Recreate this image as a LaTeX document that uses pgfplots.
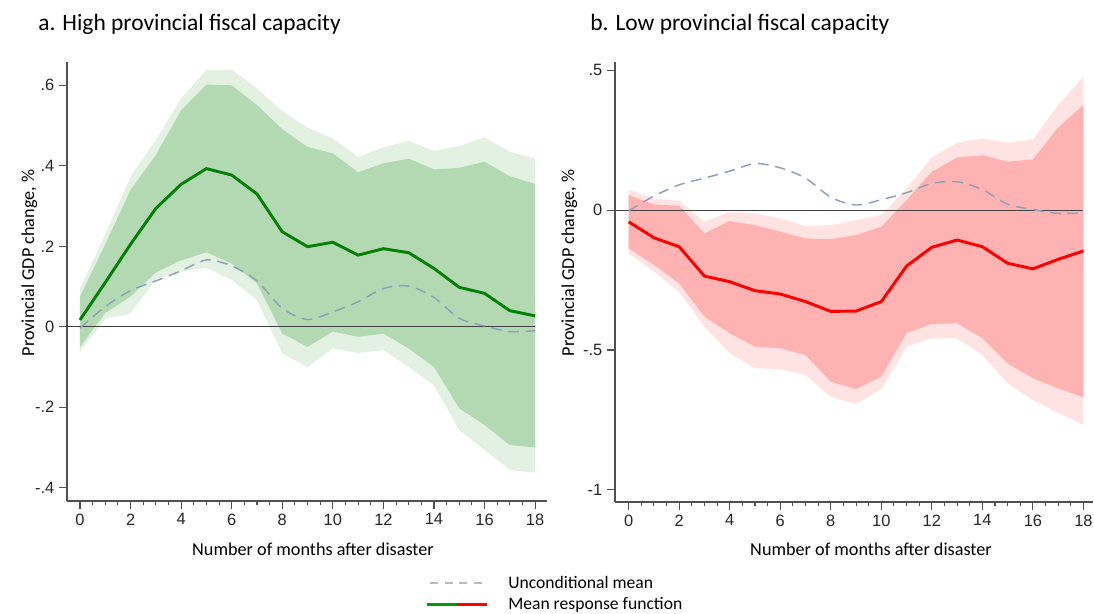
\documentclass[border=0pt]{standalone}
\usepackage{pgfplots}
\pgfplotsset{compat=1.18}
\usepackage{pgfplotstable}
\usepgfplotslibrary{fillbetween}
\usepackage{fontspec}
\setmainfont{Carlito}
\newfontfamily\tickfont{Liberation Sans}

\definecolor{gdark}{RGB}{179,217,179}
\definecolor{glight}{RGB}{227,241,227}
\definecolor{gline}{RGB}{0,128,0}
\definecolor{rdark}{RGB}{255,178,178}
\definecolor{rlight}{RGB}{255,227,227}
\definecolor{rline}{RGB}{255,0,0}
\definecolor{unc}{RGB}{140,160,185}
\definecolor{axcol}{RGB}{80,80,80}
\definecolor{leggray}{RGB}{185,185,185}

% High fiscal capacity
\pgfplotstableread{
m  mean   unc    dhi    dlo    lhi    llo
0  0.017 -0.003  0.075 -0.050  0.095 -0.062
1  0.110  0.050  0.205  0.034  0.230  0.020
2  0.205  0.090  0.340  0.075  0.373  0.033
3  0.294  0.114  0.427  0.135  0.464  0.118
4  0.354  0.139  0.538  0.165  0.567  0.137
5  0.393  0.166  0.602  0.185  0.639  0.147
6  0.377  0.151  0.600  0.157  0.639  0.116
7  0.330  0.114  0.551  0.108  0.592  0.066
8  0.236  0.046  0.491 -0.017  0.536 -0.066
9  0.199  0.018  0.447 -0.050  0.495 -0.100
10 0.210  0.037  0.431 -0.012  0.468 -0.054
11 0.178  0.062  0.384 -0.025  0.422 -0.065
12 0.194  0.095  0.406 -0.017  0.446 -0.058
13 0.184  0.101  0.418 -0.054  0.462 -0.100
14 0.145  0.073  0.391 -0.100  0.437 -0.145
15 0.098  0.021  0.395 -0.203  0.449 -0.257
16 0.083  0.002  0.410 -0.244  0.471 -0.306
17 0.040 -0.012  0.374 -0.294  0.435 -0.356
18 0.027 -0.010  0.355 -0.300  0.418 -0.363
}\hightab

% Low fiscal capacity
\pgfplotstableread{
m  mean   unc    dhi    dlo    lhi    llo
0  -0.042 -0.003  0.054 -0.137  0.074 -0.155
1  -0.099  0.050  0.020 -0.196  0.040 -0.220
2  -0.131  0.090  0.015 -0.262  0.033 -0.292
3  -0.236  0.114 -0.083 -0.381 -0.042 -0.417
4  -0.256  0.139 -0.039 -0.440 -0.006 -0.512
5  -0.288  0.166 -0.054 -0.488 -0.012 -0.565
6  -0.300  0.151 -0.077 -0.494 -0.030 -0.568
7  -0.327  0.114 -0.101 -0.518 -0.057 -0.589
8  -0.362  0.046 -0.104 -0.613 -0.054 -0.667
9  -0.361  0.018 -0.089 -0.640 -0.036 -0.693
10 -0.327  0.037 -0.060 -0.595 -0.018 -0.640
11 -0.200  0.062  0.036 -0.440  0.077 -0.488
12 -0.133  0.095  0.137 -0.407  0.188 -0.458
13 -0.107  0.101  0.188 -0.405  0.240 -0.458
14 -0.131  0.073  0.196 -0.458  0.256 -0.518
15 -0.190  0.021  0.173 -0.548  0.240 -0.619
16 -0.210  0.002  0.181 -0.601  0.252 -0.679
17 -0.176 -0.012  0.295 -0.637  0.375 -0.724
18 -0.146 -0.010  0.375 -0.669  0.476 -0.768
}\lowtab

\pgfplotsset{
 common/.style={
  scale only axis,
  axis x line*=bottom, axis y line*=left,
  axis line style={draw=axcol, line width=0.9pt, -},
  tick align=outside,
  major tick length=6pt, minor tick length=3.2pt,
  every tick/.style={draw=axcol, line width=0.8pt},
  xtick={0,2,4,6,8,10,12,14,16,18},
  xticklabels={0,2,4,6,8,10,12,14,16,18},
  minor x tick num=3,
  ticklabel style={font=\tickfont\fontsize{12.3}{14}\selectfont, text=black!85},
  anchor=south west,
 }
}

\begin{document}
\begin{tikzpicture}[x=0.75pt,y=0.75pt]

% ---------- Panel a ----------
\begin{axis}[common,
  at={(50.25pt,84pt)}, width=359.8pt, height=329.25pt,
  xmin=-0.514, xmax=18.46, ymin=-0.433, ymax=0.658,
  ytick={-0.4,-0.2,0,0.2,0.4,0.6},
  yticklabels={-.4,-.2,0,.2,.4,.6}]
  \addplot[name path=alhi, draw=none] table[x=m,y=lhi]{\hightab};
  \addplot[name path=allo, draw=none] table[x=m,y=llo]{\hightab};
  \addplot[name path=adhi, draw=none] table[x=m,y=dhi]{\hightab};
  \addplot[name path=adlo, draw=none] table[x=m,y=dlo]{\hightab};
  \addplot[glight] fill between[of=alhi and allo];
  \addplot[gdark] fill between[of=adhi and adlo];
  \addplot[black!75, line width=0.7pt] coordinates {(-0.514,0) (18,0)};
  \addplot[unc, line width=1.1pt, dash pattern=on 8pt off 5pt, smooth] table[x=m,y=unc]{\hightab};
  \addplot[gline, line width=2.2pt] table[x=m,y=mean]{\hightab};
\end{axis}

% ---------- Panel b ----------
\begin{axis}[common,
  at={(461.25pt,83.25pt)}, width=358.5pt, height=330pt,
  xmin=-0.54, xmax=18.38, ymin=-1.043, ymax=0.529,
  ytick={-1,-0.5,0,0.5},
  yticklabels={-1,-.5,0,.5}]
  \addplot[name path=blhi, draw=none] table[x=m,y=lhi]{\lowtab};
  \addplot[name path=bllo, draw=none] table[x=m,y=llo]{\lowtab};
  \addplot[name path=bdhi, draw=none] table[x=m,y=dhi]{\lowtab};
  \addplot[name path=bdlo, draw=none] table[x=m,y=dlo]{\lowtab};
  \addplot[rlight] fill between[of=blhi and bllo];
  \addplot[rdark] fill between[of=bdhi and bdlo];
  \addplot[black!75, line width=0.7pt] coordinates {(-0.54,0) (18,0)};
  \addplot[unc, line width=1.1pt, dash pattern=on 8pt off 5pt, smooth] table[x=m,y=unc]{\lowtab};
  \addplot[rline, line width=2.2pt] table[x=m,y=mean]{\lowtab};
\end{axis}

% ---------- Titles and labels ----------
\node[anchor=base west, inner sep=0, font=\fontsize{17.6}{20}\selectfont] at (38,582.5) {a. High provincial fiscal capacity};
\node[anchor=base west, inner sep=0, font=\fontsize{17.6}{20}\selectfont] at (590,582.5) {b. Low provincial fiscal capacity};

\node[rotate=90, anchor=base, inner sep=0, font=\fontsize{13.65}{16}\selectfont] at (34,350) {Provincial GDP change, \%};
\node[rotate=90, anchor=base, inner sep=0, font=\fontsize{13.65}{16}\selectfont] at (574,350) {Provincial GDP change, \%};

\node[anchor=base, inner sep=0, font=\fontsize{13.65}{16}\selectfont] at (313,57.5) {Number of months after disaster};
\node[anchor=base, inner sep=0, font=\fontsize{13.65}{16}\selectfont] at (871,57.5) {Number of months after disaster};

% ---------- Legend ----------
\draw[leggray, line width=1.5pt, dash pattern=on 6pt off 5pt] (430,30.3) -- (487,30.3);
\node[anchor=base west, inner sep=0, font=\fontsize{13.2}{15}\selectfont] at (508,25) {Unconditional mean};
\draw[gline!80!green, line width=2.2pt] (427,8.7) -- (457,8.7);
\draw[rline, line width=2.2pt] (457,8.7) -- (487,8.7);
\node[anchor=base west, inner sep=0, font=\fontsize{13.2}{15}\selectfont] at (508,3) {Mean response function};

\pgfresetboundingbox
\path[use as bounding box] (0,0) rectangle (1094,613);
\end{tikzpicture}
\end{document}
